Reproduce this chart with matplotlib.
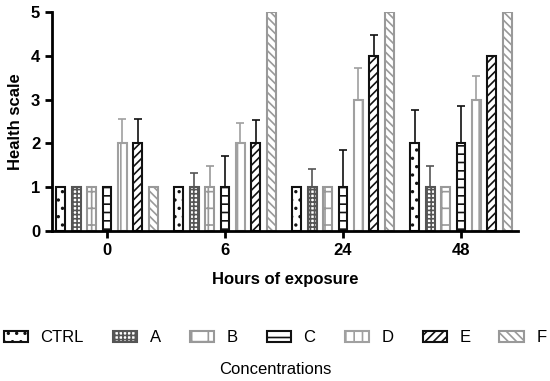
import numpy as np
import matplotlib.pyplot as plt
from matplotlib.patches import Patch

plt.rcParams['font.family'] = ['Liberation Sans', 'DejaVu Sans']
plt.rcParams['hatch.linewidth'] = 1.2

hours = ["0", "6", "24", "48"]
groups = ["CTRL", "A", "B", "C", "D", "E", "F"]

# mean health scale per concentration, one value per exposure time
means = {
    "CTRL": [1, 1, 1, 2],
    "A": [1, 1, 1, 1],
    "B": [1, 1, 1, 1],
    "C": [1, 1, 1, 2],
    "D": [2, 2, 3, 3],
    "E": [2, 2, 4, 4],
    "F": [1, 5, 5, 5],
}
# upper error (SD) per concentration, 0 = no bar drawn
errors = {
    "CTRL": [0, 0, 0, 0.76],
    "A": [0, 0.33, 0.42, 0.48],
    "B": [0, 0.48, 0, 0],
    "C": [0, 0.72, 0.85, 0.85],
    "D": [0.55, 0.47, 0.72, 0.55],
    "E": [0.55, 0.53, 0.47, 0],
    "F": [0, 0, 0, 0],
}

edge_colors = ["#111111", "#555555", "#999999", "#111111", "#a0a0a0", "#111111", "#999999"]
hatches = ["..", "++++", "+", "--", "||", "////", "\\\\\\\\"]

fig = plt.figure(figsize=(5.5, 3.81), dpi=100)
ax = fig.add_axes([52 / 550, 1 - 231 / 381, 466 / 550, 219 / 381])

x = np.arange(len(hours))
bar_w = 0.076
step = 0.131
for i, g in enumerate(groups):
    pos = x + (i - 3) * step
    ax.bar(pos, means[g], width=bar_w, facecolor="white", edgecolor=edge_colors[i],
           hatch=hatches[i], linewidth=1.5, zorder=2)
    err = np.array(errors[g])
    mask = err > 0
    if mask.any():
        ax.errorbar(pos[mask], np.array(means[g])[mask],
                    yerr=[np.zeros(mask.sum()), err[mask]], fmt="none",
                    ecolor=edge_colors[i], elinewidth=1.2, capsize=3, capthick=1.2, zorder=1)

ax.set_xlim(-0.466, 3.483)
ax.set_ylim(0, 5)
ax.set_yticks(range(6))
ax.set_xticks(x)
ax.set_xticklabels(hours)
for side in ["top", "right"]:
    ax.spines[side].set_visible(False)
for side in ["left", "bottom"]:
    ax.spines[side].set_linewidth(2)
ax.tick_params(width=2, length=5, labelsize=12)
for lab in ax.get_xticklabels() + ax.get_yticklabels():
    lab.set_fontweight("bold")
ax.set_xlabel("Hours of exposure", fontsize=12, fontweight="bold", labelpad=10)
ax.set_ylabel("Health scale", fontsize=12, fontweight="bold", labelpad=6)

handles = [Patch(facecolor="white", edgecolor=edge_colors[i], hatch=hatches[i], linewidth=1.5)
           for i in range(len(groups))]
fig.legend(handles, groups, loc="center", bbox_to_anchor=(0.5, 1 - 338 / 381), ncol=7,
           frameon=False, fontsize=12, handlelength=1.45, handleheight=0.6,
           columnspacing=1.75, handletextpad=0.75)
fig.text(0.5, 1 - 370 / 381, "Concentrations", ha="center", va="center", fontsize=12)

fig.savefig("out.png", dpi=100)
